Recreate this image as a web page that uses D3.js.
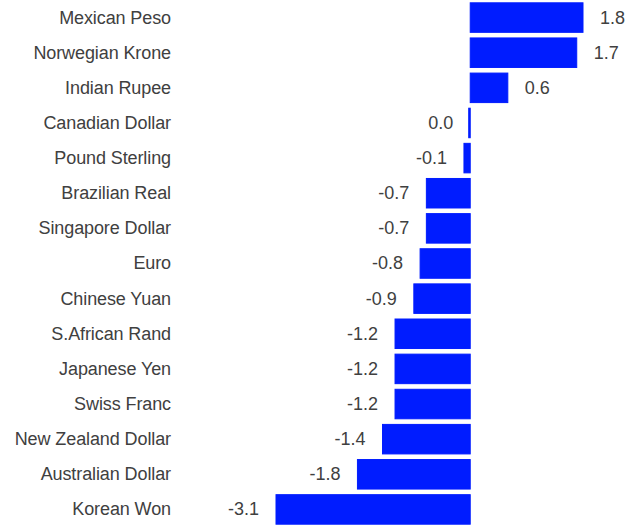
<!DOCTYPE html>
<html>
<head>
<meta charset="utf-8">
<script src="https://cdn.jsdelivr.net/npm/d3@7"></script>
<style>
  html, body { margin: 0; padding: 0; background: #fff; }
  svg { display: block; }
  text { font-family: "Liberation Sans", Arial, sans-serif; fill: #404040; }
</style>
</head>
<body>
<svg id="chart" width="640" height="527"></svg>
<script>
// Currency moves, top to bottom
const currencies = [
  "Mexican Peso", "Norwegian Krone", "Indian Rupee", "Canadian Dollar",
  "Pound Sterling", "Brazilian Real", "Singapore Dollar", "Euro",
  "Chinese Yuan", "S.African Rand", "Japanese Yen", "Swiss Franc",
  "New Zealand Dollar", "Australian Dollar", "Korean Won"
];
const changes = [1.8, 1.7, 0.6, 0.0, -0.1, -0.7, -0.7, -0.8, -0.9, -1.2, -1.2, -1.2, -1.4, -1.8, -3.1];

const W = 640, H = 527;
const svg = d3.select("#chart");

const x = d3.scaleLinear().domain([-3.1, 1.8]).range([276, 583]);
const y = d3.scaleBand().domain(currencies).range([0, H]).paddingInner(0.16).paddingOuter(0.08);

const rows = currencies.map((c, i) => ({ name: c, value: changes[i] }));
const barColor = "#001cff";
const minW = 1.5; // keeps a zero change visible as a hairline

const barW = d => Math.max(Math.abs(x(d.value) - x(0)), minW);

// bars
svg.append("g").selectAll("rect").data(rows).join("rect")
  .attr("x", d => d.value > 0 ? x(0) : x(0) - barW(d))
  .attr("y", d => y(d.name))
  .attr("width", barW)
  .attr("height", y.bandwidth())
  .attr("fill", barColor)
  .attr("stroke", barColor)
  .attr("stroke-width", 1);

// category labels
svg.append("g").selectAll("text").data(rows).join("text")
  .attr("x", 171)
  .attr("y", d => y(d.name) + y.bandwidth() / 2)
  .attr("dy", "0.33em")
  .attr("text-anchor", "end")
  .style("font-size", "18px")
  .style("letter-spacing", "-0.1px")
  .text(d => d.name);

// value labels
svg.append("g").selectAll("text").data(rows).join("text")
  .attr("x", d => d.value > 0 ? x(d.value) + 17 : x(d.value) - 17)
  .attr("y", d => y(d.name) + y.bandwidth() / 2)
  .attr("dy", "0.33em")
  .attr("text-anchor", d => d.value > 0 ? "start" : "end")
  .style("font-size", "18px")
  .text(d => d.value.toFixed(1));
</script>
</body>
</html>
